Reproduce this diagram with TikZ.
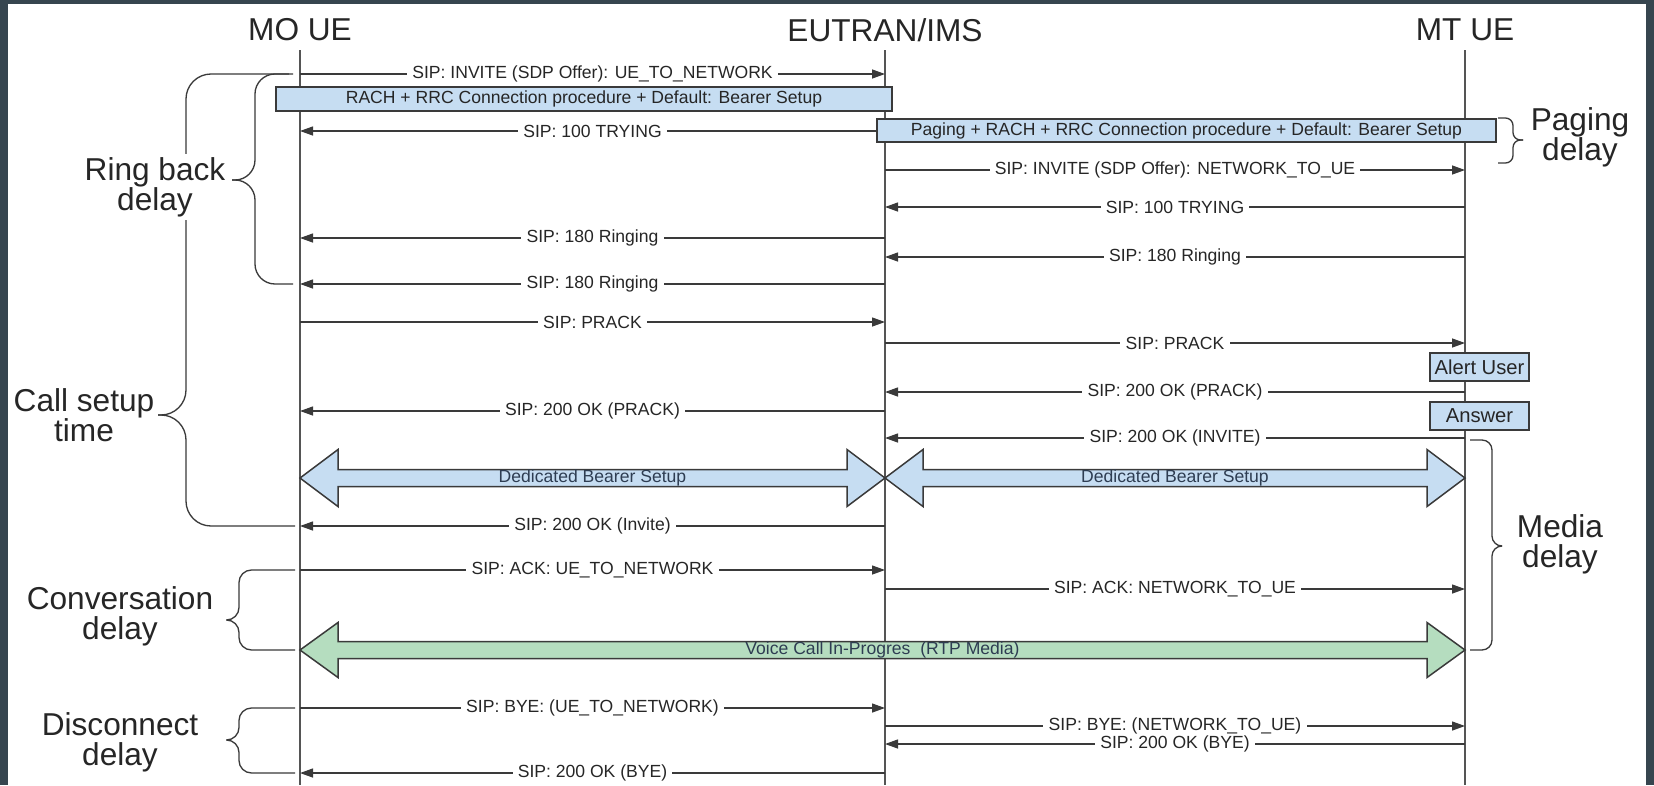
\documentclass[tikz,border=0pt]{standalone}
\usepackage{fontspec}
\setmainfont{Liberation Sans}
\usepackage{tikz}
\usetikzlibrary{positioning,arrows.meta,calc}
\definecolor{tframe}{HTML}{36454F}
\definecolor{tline}{HTML}{3A3A3A}
\definecolor{tlife}{HTML}{555555}
\definecolor{tblue}{HTML}{C6DDF2}
\definecolor{tgreen}{HTML}{B5DDBF}
\definecolor{ttext}{HTML}{262626}
\definecolor{tnavy}{HTML}{2E3D52}

\begin{document}
\begin{tikzpicture}[font=\fontsize{10}{12}\selectfont, text=ttext,
  actor/.style={font=\fontsize{18}{18}\selectfont, inner sep=0pt},
  side/.style={font=\fontsize{18}{17}\selectfont, align=center, inner sep=2pt, fill=white},
  life/.style={draw=tlife, line width=1.1pt},
  msg/.style={draw=tline, line width=0.75pt, -{Triangle[length=2.6mm,width=1.8mm]}},
  lbl/.style={fill=white, inner xsep=3pt, inner ysep=1pt},
  box/.style={draw=tline, line width=0.85pt, fill=tblue, inner sep=0pt},
  fat/.style={draw=tline, line width=0.85pt},
  bartext/.style={inner sep=0pt, text=tnavy},
  curly/.style={draw=tline, line width=0.75pt, rounded corners=#1},
  curly/.default=4mm]
% frame
\fill[tframe] (0,0) rectangle (33.08,-15.7);
\fill[white] (0.16,-0.08) rectangle (32.92,-15.7);
% actors and lifelines
\node[actor] (mo)  at (6.0,-0.6)  {MO UE};
\node[actor] (eut) at (17.7,-0.6) {EUTRAN/IMS};
\node[actor] (mt)  at (29.3,-0.6) {MT UE};
\coordinate (bot) at (0,-15.7);
\draw[life] ([yshift=-4mm]mo.center) -- (mo |- bot);
\draw[life] ([yshift=-4mm]eut.center) -- (eut |- bot);
\draw[life] ([yshift=-4mm]mt.center) -- (mt |- bot);
% call setup messages
\draw[msg] (mo |- 0,-1.48) -- node[lbl] (m1) {SIP: INVITE (SDP Offer): UE\_TO\_NETWORK} (eut |- 0,-1.48);
\draw[msg] (eut |- 0,-2.62) -- node[lbl] (m2) {SIP: 100 TRYING} (mo |- 0,-2.62);
\draw[msg] (eut |- 0,-3.40) -- node[lbl] (m3) {SIP: INVITE (SDP Offer): NETWORK\_TO\_UE} (mt |- 0,-3.40);
\draw[msg] (mt |- 0,-4.14) -- node[lbl] (m4) {SIP: 100 TRYING} (eut |- 0,-4.14);
\draw[msg] (eut |- 0,-4.76) -- node[lbl] (m5) {SIP: 180 Ringing} (mo |- 0,-4.76);
\draw[msg] (mt |- 0,-5.14) -- node[lbl] (m6) {SIP: 180 Ringing} (eut |- 0,-5.14);
\draw[msg] (eut |- 0,-5.68) -- node[lbl] (m7) {SIP: 180 Ringing} (mo |- 0,-5.68);
\draw[msg] (mo |- 0,-6.44) -- node[lbl] (m8) {SIP: PRACK} (eut |- 0,-6.44);
\draw[msg] (eut |- 0,-6.86) -- node[lbl] (m9) {SIP: PRACK} (mt |- 0,-6.86);
\draw[msg] (mt |- 0,-7.84) -- node[lbl] (m10) {SIP: 200 OK (PRACK)} (eut |- 0,-7.84);
\draw[msg] (eut |- 0,-8.22) -- node[lbl] (m11) {SIP: 200 OK (PRACK)} (mo |- 0,-8.22);
\draw[msg] (mt |- 0,-8.76) -- node[lbl] (m12) {SIP: 200 OK (INVITE)} (eut |- 0,-8.76);
\draw[msg] (eut |- 0,-10.52) -- node[lbl] (m13) {SIP: 200 OK (Invite)} (mo |- 0,-10.52);
\draw[msg] (mo |- 0,-11.40) -- node[lbl] (m14) {SIP: ACK: UE\_TO\_NETWORK} (eut |- 0,-11.40);
\draw[msg] (eut |- 0,-11.78) -- node[lbl] (m15) {SIP: ACK: NETWORK\_TO\_UE} (mt |- 0,-11.78);
% release
\draw[msg] (mo |- 0,-14.16) -- node[lbl] (m16) {SIP: BYE: (UE\_TO\_NETWORK)} (eut |- 0,-14.16);
\draw[msg] (eut |- 0,-14.52) -- node[lbl] (m17) {SIP: BYE: (NETWORK\_TO\_UE)} (mt |- 0,-14.52);
\draw[msg] (mt |- 0,-14.88) -- node[lbl] (m18) {SIP: 200 OK (BYE)} (eut |- 0,-14.88);
\draw[msg] (eut |- 0,-15.46) -- node[lbl] (m19) {SIP: 200 OK (BYE)} (mo |- 0,-15.46);
% procedure boxes
\node[box, minimum width=12.32cm, minimum height=4.8mm] (rach) at (11.68,-1.98) {RACH + RRC Connection procedure + Default: Bearer Setup};
\node[box, minimum width=12.38cm, minimum height=4.6mm] (page) at (23.73,-2.61) {Paging + RACH + RRC Connection procedure + Default: Bearer Setup};
\node[box, font=\fontsize{11.5}{12}\selectfont, minimum width=1.98cm, minimum height=5.6mm] (alert) at (29.59,-7.34) {Alert User};
\node[box, font=\fontsize{11.5}{12}\selectfont, minimum width=1.98cm, minimum height=5.6mm] (answer) at (29.59,-8.32) {Answer};
% bearer and media arrows
\coordinate (bear-l) at (mo |- 0,-9.56);
\coordinate (bear-m) at (eut |- 0,-9.56);
\coordinate (bear-r) at (mt |- 0,-9.56);
\coordinate (rtp-l) at (mo |- 0,-13.0);
\coordinate (rtp-r) at (mt |- 0,-13.0);
\draw[fat, fill=tblue] (bear-l) -- ++(0.76,0.57) -- ++(0,-0.4) -- ([xshift=-7.6mm,yshift=1.7mm]bear-m) -- ++(0,0.4) -- (bear-m)
  -- ++(-0.76,-0.57) -- ++(0,0.4) -- ([xshift=7.6mm,yshift=-1.7mm]bear-l) -- ++(0,-0.4) -- cycle;
\draw[fat, fill=tblue] (bear-m) -- ++(0.76,0.57) -- ++(0,-0.4) -- ([xshift=-7.6mm,yshift=1.7mm]bear-r) -- ++(0,0.4) -- (bear-r)
  -- ++(-0.76,-0.57) -- ++(0,0.4) -- ([xshift=7.6mm,yshift=-1.7mm]bear-m) -- ++(0,-0.4) -- cycle;
\draw[fat, fill=tgreen] (rtp-l) -- ++(0.76,0.55) -- ++(0,-0.38) -- ([xshift=-7.6mm,yshift=1.7mm]rtp-r) -- ++(0,0.38) -- (rtp-r)
  -- ++(-0.76,-0.55) -- ++(0,0.38) -- ([xshift=7.6mm,yshift=-1.7mm]rtp-l) -- ++(0,-0.38) -- cycle;
\path (bear-l) -- node[bartext] (b1) {Dedicated Bearer Setup} (bear-m);
\path (bear-m) -- node[bartext] (b2) {Dedicated Bearer Setup} (bear-r);
\path (rtp-l) -- node[bartext] (rtp) {Voice Call In-Progres~ (RTP Media)} (rtp-r);
% delay braces
\draw[curly] (5.86,-1.48) -- (5.1,-1.48) -- (5.1,-3.6) -- (4.64,-3.6);
\draw[curly] (5.86,-5.68) -- (5.1,-5.68) -- (5.1,-3.6) -- (4.64,-3.6);
\draw[curly=5mm] (5.78,-1.48) -- (3.72,-1.48) -- (3.72,-8.3) -- (3.14,-8.3);
\draw[curly=5mm] (5.9,-10.52) -- (3.72,-10.52) -- (3.72,-8.3) -- (3.14,-8.3);
\draw[curly=1.5mm] (29.96,-2.36) -- (30.26,-2.36) -- (30.26,-2.8) -- (30.46,-2.8);
\draw[curly=1.5mm] (29.96,-3.26) -- (30.26,-3.26) -- (30.26,-2.8) -- (30.46,-2.8);
\draw[curly=2mm] (29.4,-8.8) -- (29.84,-8.8) -- (29.84,-10.92) -- (30.04,-10.92);
\draw[curly=2mm] (29.4,-13.0) -- (29.84,-13.0) -- (29.84,-10.92) -- (30.04,-10.92);
\draw[curly=2.5mm] (5.9,-11.4) -- (4.78,-11.4) -- (4.78,-12.4) -- (4.56,-12.4);
\draw[curly=2.5mm] (5.9,-13.0) -- (4.78,-13.0) -- (4.78,-12.4) -- (4.56,-12.4);
\draw[curly=2.5mm] (5.9,-14.16) -- (4.78,-14.16) -- (4.78,-14.8) -- (4.56,-14.8);
\draw[curly=2.5mm] (5.9,-15.46) -- (4.78,-15.46) -- (4.78,-14.8) -- (4.56,-14.8);
\node[side] (ringback) at (3.1,-3.74)  {Ring back\\delay};
\node[side] (setup)    at (1.68,-8.3)  {Call setup\\time};
\node[side] (paging)   at (31.6,-2.74) {Paging\\delay};
\node[side] (media)    at (31.2,-10.88) {Media\\delay};
\node[side] (conv)     at (2.4,-12.32) {Conversation\\delay};
\node[side] (disc)     at (2.4,-14.84) {Disconnect\\delay};
\end{tikzpicture}
\end{document}
